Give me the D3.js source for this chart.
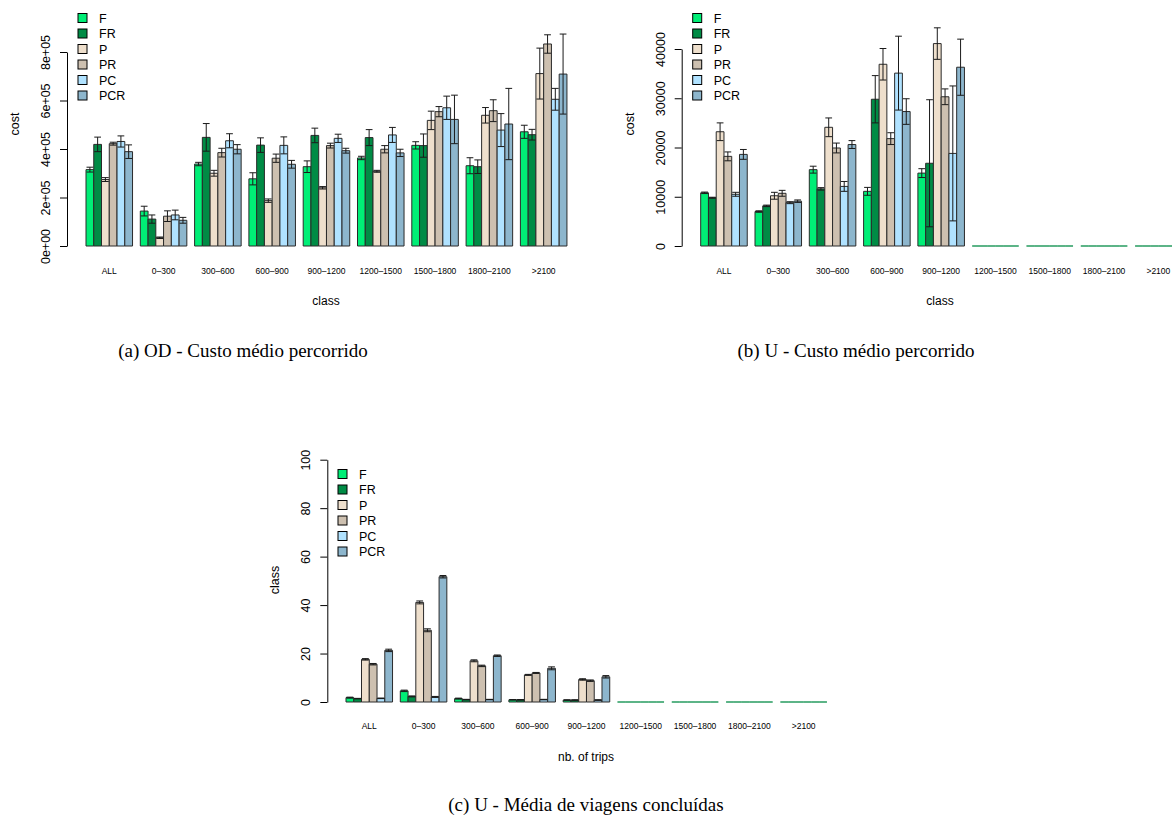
<!DOCTYPE html>
<html>
<head>
<meta charset="utf-8">
<script src="https://cdn.jsdelivr.net/npm/d3@7"></script>
<style>
  html, body { margin: 0; padding: 0; background: #fff; }
  svg { display: block; }
  text { font-family: "Liberation Sans", Arial, sans-serif; fill: #000; }
  .caption { font-family: "Liberation Serif", "Times New Roman", serif; }
</style>
</head>
<body>
<svg id="chart" width="1172" height="817"></svg>
<script>
// Distance classes and algorithm variants
const categories = ["ALL", "0–300", "300–600", "600–900", "900–1200", "1200–1500", "1500–1800", "1800–2100", ">2100"];
const series = ["F", "FR", "P", "PR", "PC", "PCR"];
const seriesColors = ["#00EE76", "#008B45", "#EEDFCC", "#CDC0B0", "#B0E2FF", "#8DB6CD"];

// (a) OD - mean travelled cost, one row per class: F, FR, P, PR, PC, PCR
const odCost = [
  [315000, 419000, 274000, 422000, 431000, 389000],
  [144000, 111000, 34000, 123000, 128000, 106000],
  [338000, 448000, 300000, 385000, 434000, 399000],
  [277000, 416000, 187000, 362000, 415000, 337000],
  [327000, 456000, 240000, 414000, 444000, 393000],
  [363000, 447000, 308000, 399000, 458000, 384000],
  [415000, 414000, 518000, 554000, 570000, 522000],
  [331000, 327000, 539000, 558000, 478000, 503000],
  [471000, 459000, 711000, 833000, 605000, 709000]
];
const odCostErr = [
  [10000, 30000, 8000, 6000, 23000, 28000],
  [20000, 17000, 3000, 22000, 20000, 12000],
  [7000, 57000, 12000, 18000, 29000, 19000],
  [25000, 30000, 7000, 17000, 35000, 16000],
  [24000, 30000, 5000, 10000, 17000, 10000],
  [7000, 33000, 4000, 15000, 31000, 15000],
  [15000, 48000, 38000, 21000, 48000, 100000],
  [33000, 28000, 32000, 45000, 68000, 147000],
  [27000, 22000, 105000, 38000, 45000, 165000]
];

// (b) U - mean travelled cost
const uCost = [
  [10800, 9800, 23200, 18200, 10500, 18600],
  [7000, 8150, 10200, 10700, 8800, 9100],
  [15500, 11600, 24100, 19900, 12100, 20600],
  [11100, 29800, 36900, 21800, 35100, 27300],
  [14800, 16800, 41100, 30300, 18800, 36300],
  [0, 0, 0, 0, 0, 0],
  [0, 0, 0, 0, 0, 0],
  [0, 0, 0, 0, 0, 0],
  [0, 0, 0, 0, 0, 0]
];
const uCostErr = [
  [150, 100, 1800, 900, 400, 1000],
  [150, 150, 700, 600, 200, 250],
  [700, 250, 1900, 1000, 1000, 800],
  [800, 4800, 3200, 1200, 7500, 2600],
  [900, 12900, 3200, 1600, 13700, 5700],
  [0, 0, 0, 0, 0, 0],
  [0, 0, 0, 0, 0, 0],
  [0, 0, 0, 0, 0, 0],
  [0, 0, 0, 0, 0, 0]
];

// (c) U - mean number of completed trips
const uTrips = [
  [1.8, 1.4, 17.6, 15.6, 1.5, 21.3],
  [4.6, 2.3, 41.1, 29.6, 2.1, 51.7],
  [1.4, 1.0, 17.0, 14.9, 1.0, 19.1],
  [0.9, 0.9, 11.2, 12.0, 1.0, 13.9],
  [0.8, 0.8, 9.3, 8.8, 0.8, 10.4],
  [0, 0, 0, 0, 0, 0],
  [0, 0, 0, 0, 0, 0],
  [0, 0, 0, 0, 0, 0],
  [0, 0, 0, 0, 0, 0]
];
const uTripsErr = [
  [0.2, 0.1, 0.3, 0.3, 0.1, 0.5],
  [0.3, 0.2, 0.6, 0.6, 0.2, 0.5],
  [0.2, 0.1, 0.4, 0.3, 0.1, 0.3],
  [0.1, 0.1, 0.2, 0.2, 0.1, 0.6],
  [0.1, 0.1, 0.3, 0.3, 0.1, 0.5],
  [0, 0, 0, 0, 0, 0],
  [0, 0, 0, 0, 0, 0],
  [0, 0, 0, 0, 0, 0],
  [0, 0, 0, 0, 0, 0]
];

// Axis ticks
const odTicks = [0, 200000, 400000, 600000, 800000];
const odTickLabels = ["0e+00", "2e+05", "4e+05", "6e+05", "8e+05"];
const uCostTicks = [0, 10000, 20000, 30000, 40000];
const uCostTickLabels = ["0", "10000", "20000", "30000", "40000"];
const tripTicks = [0, 20, 40, 60, 80, 100];
const tripTickLabels = ["0", "20", "40", "60", "80", "100"];

const svg = d3.select("#chart");

function drawPanel(opt) {
  const g = svg.append("g");
  const y = d3.scaleLinear().domain([0, opt.yTop]).range([opt.baseY, opt.topY]);
  const step = opt.step;
  const bw = step / 7;
  const xGroup = d3.scaleBand()
    .domain(categories)
    .range([opt.x0, opt.x0 + categories.length * step - bw])
    .paddingInner(1 / 7)
    .paddingOuter(0);
  const xSeries = d3.scaleBand().domain(series).range([0, xGroup.bandwidth()]).padding(0);

  const rows = [];
  categories.forEach((c, i) => {
    series.forEach((s, j) => {
      rows.push({ cat: c, ser: s, idx: j, v: opt.values[i][j], e: opt.errors[i][j] });
    });
  });

  // bars (drawn as paths so zero-height bars still show their outline)
  g.append("g").selectAll("path").data(rows).join("path")
    .attr("d", d => {
      const x1 = xGroup(d.cat) + xSeries(d.ser);
      const x2 = x1 + xSeries.bandwidth();
      const y0 = y(0), y1 = y(d.v);
      return `M${x1},${y0}V${y1}H${x2}V${y0}Z`;
    })
    .attr("fill", d => seriesColors[d.idx])
    .attr("stroke", d => d.v === 0 ? seriesColors[1] : "#2a2a2a")
    .attr("stroke-opacity", d => d.v === 0 ? 0.8 : 1)
    .attr("stroke-width", 1);

  // error bars: mean ± error with caps at both ends
  const eb = g.append("g").attr("stroke", "#1a1a1a").attr("stroke-width", 1).attr("fill", "none");
  rows.filter(d => d.e > 0).forEach(d => {
    const cx = xGroup(d.cat) + xSeries(d.ser) + xSeries.bandwidth() / 2;
    const hw = xSeries.bandwidth() / 2 - 0.5;
    const yl = y(d.v - d.e), yh = y(d.v + d.e);
    eb.append("path").attr("d", `M${cx},${yl}V${yh}M${cx - hw},${yh}H${cx + hw}M${cx - hw},${yl}H${cx + hw}`);
  });

  // y axis
  const axis = d3.axisLeft(y)
    .tickValues(opt.ticks)
    .tickFormat((d, i) => opt.tickLabels[i])
    .tickSize(7)
    .tickSizeOuter(0);
  const ag = g.append("g").attr("transform", `translate(${opt.axisX},0)`).call(axis);
  ag.select(".domain").attr("stroke", "#000");
  ag.selectAll(".tick line").attr("stroke", "#000");
  ag.selectAll(".tick text")
    .attr("font-size", 12.5)
    .attr("font-family", "Liberation Sans, Arial, sans-serif")
    .attr("transform", "rotate(-90)")
    .attr("x", 0)
    .attr("y", -17)
    .attr("dy", 0)
    .attr("text-anchor", "middle");

  // y title
  g.append("text")
    .attr("transform", `translate(${opt.axisX - 48},${opt.yTitleY}) rotate(-90)`)
    .attr("text-anchor", "middle")
    .attr("font-size", 12.5)
    .text(opt.yTitle);

  // category labels
  g.append("g").selectAll("text").data(categories).join("text")
    .attr("x", d => xGroup(d) + xGroup.bandwidth() / 2)
    .attr("y", opt.catY)
    .attr("text-anchor", "middle")
    .attr("font-size", 8.5)
    .text(d => d);

  // x title
  g.append("text")
    .attr("x", opt.xTitleX)
    .attr("y", opt.xTitleY)
    .attr("text-anchor", "middle")
    .attr("font-size", 12)
    .text(opt.xTitle);

  // legend
  const lg = g.append("g").attr("transform", `translate(${opt.legendX},${opt.legendY})`);
  series.forEach((s, j) => {
    const yy = j * 15.5;
    lg.append("rect")
      .attr("x", 0).attr("y", yy - 4.5)
      .attr("width", 9).attr("height", 9)
      .attr("fill", seriesColors[j])
      .attr("stroke", "#000").attr("stroke-width", 1);
    lg.append("text")
      .attr("x", 21).attr("y", yy + 4.5)
      .attr("font-size", 12.5)
      .text(s);
  });

  // caption
  g.append("text")
    .attr("class", "caption")
    .attr("x", opt.captionX)
    .attr("y", opt.captionY)
    .attr("text-anchor", "middle")
    .attr("font-size", 19)
    .text(opt.caption);
}

drawPanel({
  values: odCost, errors: odCostErr,
  yTop: 800000, baseY: 246, topY: 52,
  x0: 86, step: 54.3, axisX: 67,
  ticks: odTicks, tickLabels: odTickLabels,
  yTitle: "cost", yTitleY: 124,
  catY: 274, xTitle: "class", xTitleX: 326, xTitleY: 305,
  legendX: 78, legendY: 18,
  caption: "(a) OD - Custo médio percorrido", captionX: 243, captionY: 357
});

drawPanel({
  values: uCost, errors: uCostErr,
  yTop: 40000, baseY: 246, topY: 49,
  x0: 700.7, step: 54.3, axisX: 681.7,
  ticks: uCostTicks, tickLabels: uCostTickLabels,
  yTitle: "cost", yTitleY: 124,
  catY: 274, xTitle: "class", xTitleX: 940, xTitleY: 305,
  legendX: 692.7, legendY: 18,
  caption: "(b) U - Custo médio percorrido", captionX: 856, captionY: 357
});

drawPanel({
  values: uTrips, errors: uTripsErr,
  yTop: 100, baseY: 702, topY: 459.7,
  x0: 346, step: 54.3, axisX: 327.3,
  ticks: tripTicks, tickLabels: tripTickLabels,
  yTitle: "class", yTitleY: 580,
  catY: 729, xTitle: "nb. of trips", xTitleX: 586, xTitleY: 761,
  legendX: 338, legendY: 474,
  caption: "(c) U - Média de viagens concluídas", captionX: 586, captionY: 811
});
</script>
</body>
</html>
